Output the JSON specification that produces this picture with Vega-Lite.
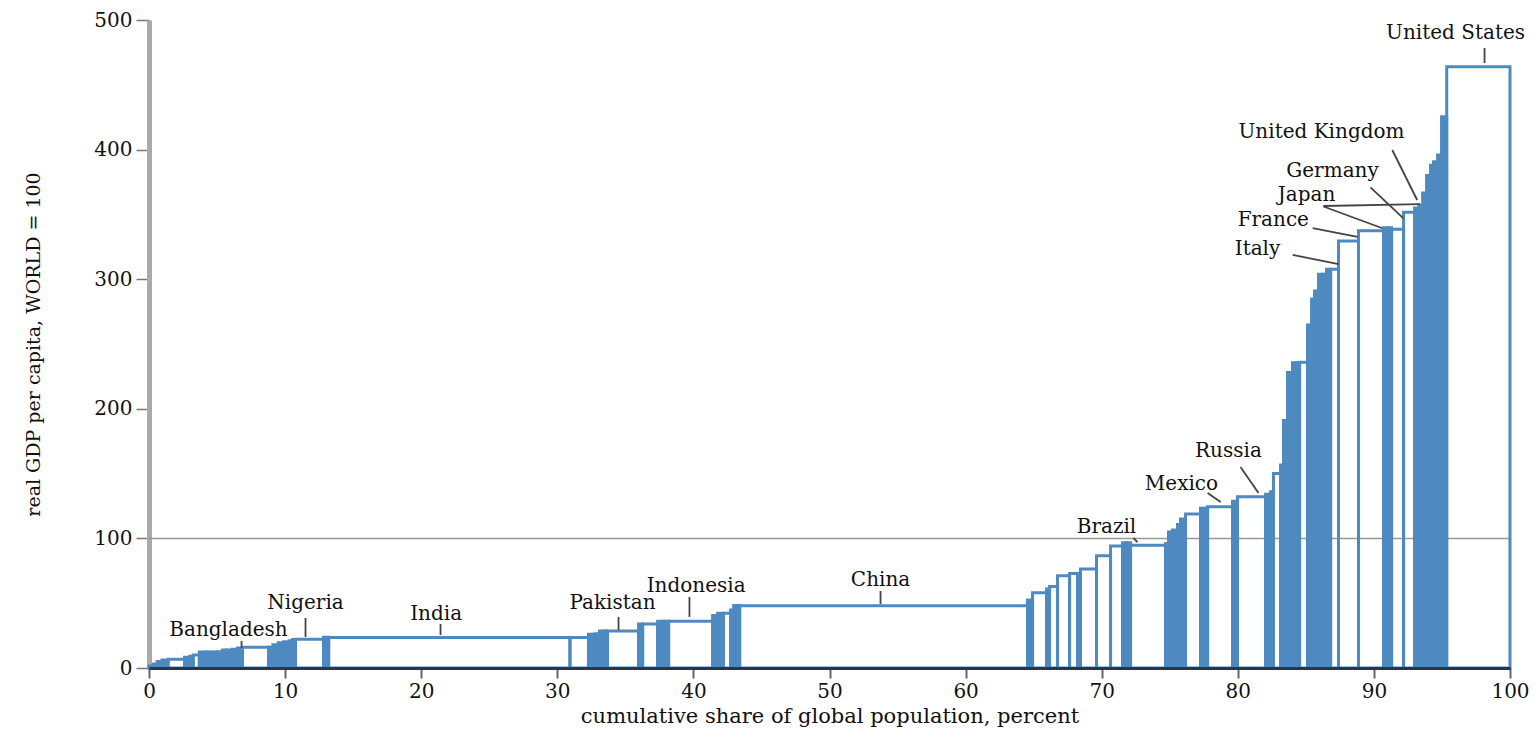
{
  "$schema": "https://vega.github.io/schema/vega-lite/v6.json",
  "width": 1361,
  "height": 648,
  "autosize": {"type": "none"},
  "padding": {"left": 149, "top": 20, "right": 29, "bottom": 63},
  "background": "white",
  "config": {"view": {"stroke": null}, "font": "DejaVu Serif"},
  "datasets": {
    "bars": [
      {"x0": 0.00, "x1": 0.30, "gdp": 1.5},
      {"x0": 0.30, "x1": 0.60, "gdp": 3},
      {"x0": 0.60, "x1": 0.95, "gdp": 5},
      {"x0": 0.95, "x1": 1.40, "gdp": 6.2},
      {"x0": 1.40, "x1": 2.61, "gdp": 6.7},
      {"x0": 2.61, "x1": 3.00, "gdp": 8.2},
      {"x0": 3.00, "x1": 3.25, "gdp": 9},
      {"x0": 3.25, "x1": 3.70, "gdp": 10},
      {"x0": 3.70, "x1": 4.10, "gdp": 12.3},
      {"x0": 4.10, "x1": 4.30, "gdp": 12.3},
      {"x0": 4.30, "x1": 4.60, "gdp": 12.3},
      {"x0": 4.60, "x1": 5.00, "gdp": 12.3},
      {"x0": 5.00, "x1": 5.40, "gdp": 12.5},
      {"x0": 5.40, "x1": 5.70, "gdp": 13.9},
      {"x0": 5.70, "x1": 6.10, "gdp": 13.9},
      {"x0": 6.10, "x1": 6.50, "gdp": 14.5},
      {"x0": 6.50, "x1": 6.87, "gdp": 15.5},
      {"x0": 6.87, "x1": 8.78, "gdp": 16},
      {"x0": 8.78, "x1": 9.10, "gdp": 16},
      {"x0": 9.10, "x1": 9.50, "gdp": 18},
      {"x0": 9.50, "x1": 9.90, "gdp": 19.5},
      {"x0": 9.90, "x1": 10.30, "gdp": 20.3},
      {"x0": 10.30, "x1": 10.55, "gdp": 21},
      {"x0": 10.55, "x1": 10.76, "gdp": 22},
      {"x0": 10.76, "x1": 12.82, "gdp": 22.1},
      {"x0": 12.82, "x1": 13.20, "gdp": 23.7},
      {"x0": 13.20, "x1": 30.93, "gdp": 23.6},
      {"x0": 30.93, "x1": 32.29, "gdp": 23.6},
      {"x0": 32.29, "x1": 32.60, "gdp": 26},
      {"x0": 32.60, "x1": 32.81, "gdp": 26},
      {"x0": 32.81, "x1": 33.10, "gdp": 26.5},
      {"x0": 33.10, "x1": 33.40, "gdp": 28.5},
      {"x0": 33.40, "x1": 33.69, "gdp": 28.5},
      {"x0": 33.69, "x1": 35.97, "gdp": 28.5},
      {"x0": 35.97, "x1": 36.27, "gdp": 34},
      {"x0": 36.27, "x1": 37.37, "gdp": 34},
      {"x0": 37.37, "x1": 37.80, "gdp": 36},
      {"x0": 37.80, "x1": 38.18, "gdp": 36},
      {"x0": 38.18, "x1": 41.41, "gdp": 36},
      {"x0": 41.41, "x1": 41.78, "gdp": 40.6},
      {"x0": 41.78, "x1": 42.20, "gdp": 42.2},
      {"x0": 42.20, "x1": 42.74, "gdp": 42.2},
      {"x0": 42.74, "x1": 42.96, "gdp": 44.8},
      {"x0": 42.96, "x1": 43.40, "gdp": 48.3},
      {"x0": 43.40, "x1": 64.55, "gdp": 48.0},
      {"x0": 64.55, "x1": 64.92, "gdp": 52.5},
      {"x0": 64.92, "x1": 65.95, "gdp": 58.1},
      {"x0": 65.95, "x1": 66.17, "gdp": 61},
      {"x0": 66.17, "x1": 66.75, "gdp": 62.8},
      {"x0": 66.75, "x1": 67.64, "gdp": 71.2},
      {"x0": 67.64, "x1": 68.22, "gdp": 73},
      {"x0": 68.22, "x1": 68.44, "gdp": 73},
      {"x0": 68.44, "x1": 69.62, "gdp": 76.4},
      {"x0": 69.62, "x1": 70.65, "gdp": 86.7},
      {"x0": 70.65, "x1": 71.53, "gdp": 94.1},
      {"x0": 71.53, "x1": 71.85, "gdp": 96.7},
      {"x0": 71.85, "x1": 72.12, "gdp": 96.7},
      {"x0": 72.12, "x1": 74.69, "gdp": 94.7},
      {"x0": 74.69, "x1": 74.91, "gdp": 96},
      {"x0": 74.91, "x1": 75.20, "gdp": 105},
      {"x0": 75.20, "x1": 75.57, "gdp": 106.5},
      {"x0": 75.57, "x1": 75.79, "gdp": 110.8},
      {"x0": 75.79, "x1": 76.16, "gdp": 115},
      {"x0": 76.16, "x1": 77.26, "gdp": 118.8},
      {"x0": 77.26, "x1": 77.52, "gdp": 123.2},
      {"x0": 77.52, "x1": 77.78, "gdp": 123.2},
      {"x0": 77.78, "x1": 79.61, "gdp": 124.5},
      {"x0": 79.61, "x1": 79.98, "gdp": 128.6},
      {"x0": 79.98, "x1": 82.04, "gdp": 132.2},
      {"x0": 82.04, "x1": 82.40, "gdp": 134},
      {"x0": 82.40, "x1": 82.62, "gdp": 136},
      {"x0": 82.62, "x1": 83.14, "gdp": 150},
      {"x0": 83.14, "x1": 83.36, "gdp": 156.6},
      {"x0": 83.36, "x1": 83.65, "gdp": 191},
      {"x0": 83.65, "x1": 84.02, "gdp": 228},
      {"x0": 84.02, "x1": 84.30, "gdp": 235.6},
      {"x0": 84.30, "x1": 84.54, "gdp": 235.6},
      {"x0": 84.54, "x1": 85.12, "gdp": 236},
      {"x0": 85.12, "x1": 85.42, "gdp": 264.7},
      {"x0": 85.42, "x1": 85.64, "gdp": 284.7},
      {"x0": 85.64, "x1": 85.93, "gdp": 290.9},
      {"x0": 85.93, "x1": 86.23, "gdp": 303.8},
      {"x0": 86.23, "x1": 86.52, "gdp": 303.8},
      {"x0": 86.52, "x1": 86.82, "gdp": 307.6},
      {"x0": 86.82, "x1": 87.40, "gdp": 307.6},
      {"x0": 87.40, "x1": 88.87, "gdp": 329.5},
      {"x0": 88.87, "x1": 90.71, "gdp": 337.4},
      {"x0": 90.71, "x1": 91.00, "gdp": 339.7},
      {"x0": 91.00, "x1": 91.30, "gdp": 339.7},
      {"x0": 91.30, "x1": 92.18, "gdp": 338.5},
      {"x0": 92.18, "x1": 92.99, "gdp": 351.6},
      {"x0": 92.99, "x1": 93.30, "gdp": 355},
      {"x0": 93.30, "x1": 93.58, "gdp": 357},
      {"x0": 93.58, "x1": 93.87, "gdp": 366.5},
      {"x0": 93.87, "x1": 94.16, "gdp": 380},
      {"x0": 94.16, "x1": 94.38, "gdp": 388},
      {"x0": 94.38, "x1": 94.68, "gdp": 390.7},
      {"x0": 94.68, "x1": 94.97, "gdp": 395.8},
      {"x0": 94.97, "x1": 95.35, "gdp": 425.4},
      {"x0": 95.35, "x1": 100.0, "gdp": 464}
    ],
    "labels": [
      {"name": "Bangladesh", "x": 5.84, "y": 29.3},
      {"name": "Nigeria", "x": 11.5, "y": 50.2},
      {"name": "India", "x": 21.1, "y": 41.7},
      {"name": "Pakistan", "x": 34.06, "y": 50.2},
      {"name": "Indonesia", "x": 40.2, "y": 63.3},
      {"name": "China", "x": 53.75, "y": 67.9},
      {"name": "Brazil", "x": 70.35, "y": 108.8},
      {"name": "Mexico", "x": 75.86, "y": 142.0},
      {"name": "Russia", "x": 79.31, "y": 167.4},
      {"name": "Italy", "x": 81.45, "y": 323.3},
      {"name": "France", "x": 82.61, "y": 345.7},
      {"name": "Japan", "x": 85.05, "y": 365.0},
      {"name": "Germany", "x": 86.96, "y": 383.5},
      {"name": "United Kingdom", "x": 86.15, "y": 413.6},
      {"name": "United States", "x": 96.0, "y": 490.0}
    ],
    "pointers": [
      {"x": 6.80, "y": 15.4, "x2": 6.80, "y2": 20.8},
      {"x": 11.50, "y": 23.9, "x2": 11.50, "y2": 38.6},
      {"x": 21.42, "y": 25.5, "x2": 21.42, "y2": 33.9},
      {"x": 34.50, "y": 29.3, "x2": 34.50, "y2": 39.4},
      {"x": 39.71, "y": 39.4, "x2": 39.71, "y2": 54.8},
      {"x": 53.75, "y": 49.4, "x2": 53.75, "y2": 59.4},
      {"x": 72.33, "y": 100.3, "x2": 72.63, "y2": 97.2},
      {"x": 77.78, "y": 135.0, "x2": 78.74, "y2": 128.1},
      {"x": 80.20, "y": 155.1, "x2": 81.52, "y2": 135.0},
      {"x": 84.03, "y": 318.7, "x2": 87.40, "y2": 311.7},
      {"x": 85.50, "y": 339.5, "x2": 88.80, "y2": 332.6},
      {"x": 86.29, "y": 356.1, "x2": 90.63, "y2": 339.3},
      {"x": 86.29, "y": 356.5, "x2": 93.40, "y2": 358.0},
      {"x": 89.75, "y": 370.9, "x2": 92.17, "y2": 347.0},
      {"x": 91.35, "y": 399.7, "x2": 93.18, "y2": 361.1},
      {"x": 98.13, "y": 466.8, "x2": 98.13, "y2": 478.4}
    ]
  },
  "layer": [
    {
      "data": {"values": [{}]},
      "mark": {"type": "rule", "color": "#999999", "strokeWidth": 1.5},
      "encoding": {
        "y": {"datum": 100, "type": "quantitative", "title": "real GDP per capita, WORLD = 100"}
      }
    },
    {
      "data": {"name": "bars"},
      "mark": {"type": "rect", "stroke": "#4e8ac0", "strokeWidth": 3},
      "encoding": {
        "x": {
          "field": "x0", "type": "quantitative",
          "title": "cumulative share of global population, percent",
          "scale": {"domain": [0, 100], "nice": false, "zero": false},
          "axis": {
            "values": [0, 10, 20, 30, 40, 50, 60, 70, 80, 90, 100],
            "grid": false, "domainColor": "#23384f", "domainWidth": 3,
            "tickColor": "#666666", "tickWidth": 2, "tickSize": 10,
            "labelFontSize": 20, "labelFont": "DejaVu Serif", "labelColor": "#111111",
            "labelPadding": 3, "labelFlush": false, "labelOverlap": false,
            "titleFontSize": 21, "titleFont": "DejaVu Serif", "titleFontWeight": "normal",
            "titleColor": "#111111", "titlePadding": 4, "zindex": 1
          }
        },
        "x2": {"field": "x1"},
        "y": {
          "field": "gdp", "type": "quantitative",
          "title": "real GDP per capita, WORLD = 100",
          "scale": {"domain": [0, 500], "nice": false},
          "axis": {
            "values": [0, 100, 200, 300, 400, 500],
            "grid": false, "domainColor": "#aaaaaa", "domainWidth": 5,
            "tickColor": "#777777", "tickWidth": 1.5, "tickSize": 13,
            "labelFontSize": 20, "labelFont": "DejaVu Serif", "labelColor": "#111111",
            "labelPadding": 4,
            "titleFontSize": 19, "titleFont": "DejaVu Serif", "titleFontWeight": "normal",
            "titleColor": "#111111", "titlePadding": 50, "zindex": 0
          }
        },
        "y2": {"datum": 0},
        "fill": {
          "condition": {"test": "datum.x1 - datum.x0 < 0.45", "value": "#4e8ac0"},
          "value": "transparent"
        }
      }
    },
    {
      "data": {"name": "pointers"},
      "mark": {"type": "rule", "color": "#444444", "strokeWidth": 1.8},
      "encoding": {
        "x": {"field": "x", "type": "quantitative", "title": "cumulative share of global population, percent"},
        "y": {"field": "y", "type": "quantitative", "title": "real GDP per capita, WORLD = 100"},
        "x2": {"field": "x2"},
        "y2": {"field": "y2"}
      }
    },
    {
      "data": {"name": "labels"},
      "mark": {"type": "text", "font": "DejaVu Serif", "fontSize": 20, "color": "#111111", "align": "center", "baseline": "middle"},
      "encoding": {
        "x": {"field": "x", "type": "quantitative", "title": "cumulative share of global population, percent"},
        "y": {"field": "y", "type": "quantitative", "title": "real GDP per capita, WORLD = 100"},
        "text": {"field": "name"}
      }
    }
  ]
}
